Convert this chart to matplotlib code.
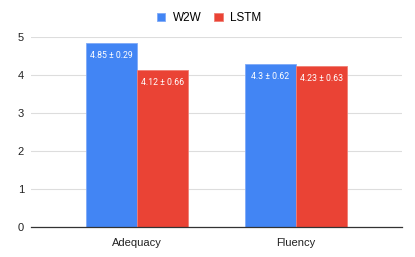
import matplotlib
matplotlib.use("Agg")
import matplotlib.pyplot as plt
import numpy as np

plt.rcParams['font.family'] = ['Liberation Sans', 'DejaVu Sans']

categories = ["Adequacy", "Fluency"]
series_names = ["W2W", "LSTM"]
w2w_means = [4.85, 4.3]
w2w_sds = [0.29, 0.62]
lstm_means = [4.12, 4.23]
lstm_sds = [0.66, 0.63]
w2w_labels = ["4.85 ± 0.29", "4.3 ± 0.62"]
lstm_labels = ["4.12 ± 0.66", "4.23 ± 0.63"]
yticks = [0, 1, 2, 3, 4, 5]

colors = ["#4285F4", "#EA4335"]

fig = plt.figure(figsize=(4.15, 2.57), dpi=100)
ax = fig.add_axes([31/415, 1-227/257, (402-31)/415, (227-37)/257])

x = np.arange(len(categories))
w = 0.32
b1 = ax.bar(x - w/2, w2w_means, width=w, color=colors[0], label=series_names[0],
            edgecolor="#7FAAF7", linewidth=0.6, zorder=3)
b2 = ax.bar(x + w/2, lstm_means, width=w, color=colors[1], label=series_names[1],
            edgecolor="#F07F75", linewidth=0.6, zorder=3)

for bars, labels in ((b1, w2w_labels), (b2, lstm_labels)):
    for rect, lab in zip(bars, labels):
        ax.annotate(lab, (rect.get_x() + rect.get_width()/2, rect.get_height()),
                    xytext=(0, -9), textcoords="offset points",
                    ha="center", va="center", color="white", fontsize=6.3, zorder=4,
                    family=['Roboto', 'DejaVu Sans'])

ax.set_xlim(-0.667, 1.667)
ax.set_ylim(0, 5)
ax.set_yticks(yticks)
ax.set_yticklabels([str(t) for t in yticks])
ax.set_xticks(x)
ax.set_xticklabels(categories)
ax.tick_params(axis="both", length=0, labelsize=8, colors="#222222")
ax.tick_params(axis="y", pad=5)
ax.tick_params(axis="x", pad=8)
ax.grid(axis="y", color="#DDDDDD", linewidth=0.8, zorder=0)
ax.set_axisbelow(True)
for s in ["top", "right", "left"]:
    ax.spines[s].set_visible(False)
ax.spines["bottom"].set_color("#333333")
ax.spines["bottom"].set_linewidth(0.9)
ax.spines["bottom"].set_zorder(5)

fig.legend(handles=[b1, b2], labels=series_names, loc="center", bbox_to_anchor=(209/415, 1-18/257),
           ncol=2, frameon=False, fontsize=8.5, handlelength=0.75, handleheight=0.75,
           handletextpad=0.6, columnspacing=1.1)

fig.savefig("out.png", dpi=100)
